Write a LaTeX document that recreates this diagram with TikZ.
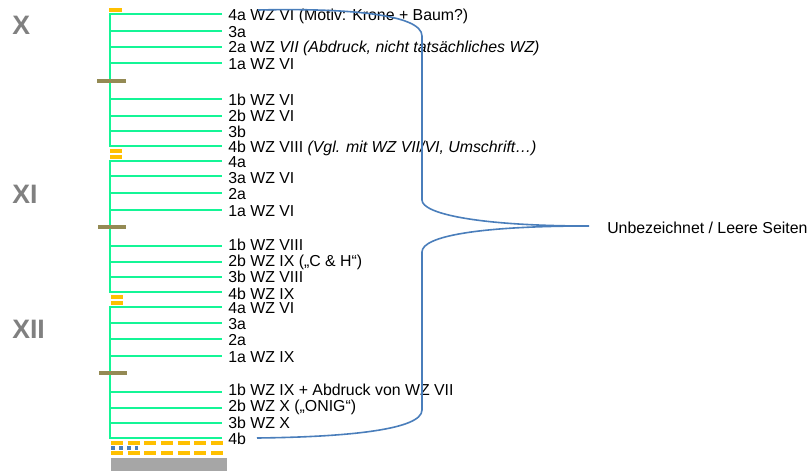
\documentclass[tikz,border=0pt]{standalone}
\usepackage{fontspec}
\setmainfont{Liberation Sans}
\definecolor{leafgreen}{RGB}{20,245,150}
\definecolor{markyellow}{RGB}{255,192,0}
\definecolor{olivebar}{RGB}{148,138,84}
\definecolor{bracketblue}{RGB}{74,126,187}
\definecolor{quiregray}{RGB}{128,128,128}
\definecolor{blockgray}{RGB}{166,166,166}
\tikzset{
  leaf/.style={draw=leafgreen, line width=1.6pt},
  ybar/.style={draw=markyellow, line width=3pt},
  obar/.style={draw=olivebar, line width=3pt},
  ydash/.style={draw=markyellow, line width=3pt, dash pattern=on 9pt off 3.5pt},
  lbl/.style={anchor=west, inner sep=0pt, font=\fontsize{11.9}{13}\selectfont},
  quire/.style={anchor=west, inner sep=0pt, text=quiregray, font=\fontsize{20}{22}\selectfont\bfseries},
  brace/.style={draw=bracketblue, line width=1.2pt}
}
\begin{document}
\begin{tikzpicture}[x=0.75pt,y=-0.75pt]
\useasboundingbox (0,0) rectangle (811,471);
% quire labels
\node[quire] (qX) at (12,25) {X};
\node[quire] (qXI) at (12,194) {XI};
\node[quire] (qXII) at (12,329) {XII};
% quire 1
\draw[leaf] (222,14) -- (110,14) -- (110,146) -- (222,146);
\foreach \y in {31,47,63,99,116,131} \draw[leaf] (110,\y) -- (222,\y);
\draw[ybar] (109,10) -- (122,10);
\draw[obar] (97,81) -- (126,81);
\draw[ybar] (110,150.5) -- (122,150.5);
\draw[ybar] (110,156.5) -- (122,156.5);
% quire 2
\draw[leaf] (222,161) -- (110,161) -- (110,292) -- (222,292);
\foreach \y in {176,193,210,246,262,277} \draw[leaf] (110,\y) -- (222,\y);
\draw[obar] (98,227) -- (126,227);
\draw[ybar] (111,296.5) -- (123,296.5);
\draw[ybar] (111,303) -- (123,303);
% quire 3
\draw[leaf] (222,307) -- (110,307) -- (110,438) -- (222,438);
\foreach \y in {323,339,356,392,408,423} \draw[leaf] (110,\y) -- (222,\y);
\draw[obar] (99,373) -- (127,373);
% bottom markers
\draw[ydash] (111,442.5) -- (227,442.5);
\draw[draw=bracketblue, line width=3pt, dash pattern=on 3pt off 3pt] (111,447.5) -- (138,447.5);
\draw[ydash] (111,453) -- (227,453);
\fill[blockgray] (111,458) rectangle (227,471);
% labels
\node[lbl] (a4a) at (228,16) {4a WZ VI (Motiv: Krone + Baum?)};
\node[lbl] (a3a) at (228,32) {3a};
\node[lbl] (a2a) at (228,48) {2a WZ \textit{VII (Abdruck, nicht tatsächliches WZ)}};
\node[lbl] (a1a) at (228,64) {1a WZ VI};
\node[lbl] (a1b) at (228,100) {1b WZ VI};
\node[lbl] (a2b) at (228,116) {2b WZ VI};
\node[lbl] (a3b) at (228,132) {3b};
\node[lbl] (a4b) at (228,148) {4b WZ VIII \textit{(Vgl. mit WZ VII/VI, Umschrift…)}};
\node[lbl] (b4a) at (228,162) {4a};
\node[lbl] (b3a) at (228,178) {3a WZ VI};
\node[lbl] (b2a) at (228,194) {2a};
\node[lbl] (b1a) at (228,211) {1a WZ VI};
\node[lbl] (b1b) at (228,245) {1b WZ VIII};
\node[lbl] (b2b) at (228,262) {2b WZ IX („C \& H“)};
\node[lbl] (b3b) at (228,277) {3b WZ VIII};
\node[lbl] (b4b) at (228,293.5) {4b WZ IX};
\node[lbl] (c4a) at (228,308) {4a WZ VI};
\node[lbl] (c3a) at (228,324) {3a};
\node[lbl] (c2a) at (228,340) {2a};
\node[lbl] (c1a) at (228,357) {1a WZ IX};
\node[lbl] (c1b) at (228,390) {1b WZ IX + Abdruck von WZ VII};
\node[lbl] (c2b) at (228,407) {2b WZ X („ONIG“)};
\node[lbl] (c3b) at (228,423) {3b WZ X};
\node[lbl] (c4b) at (228,439) {4b};
\node[lbl] (note) at (607,228) {Unbezeichnet / Leere Seiten};
% bracket
\coordinate (btop) at (258,10);
\coordinate (btip) at (589,226);
\coordinate (bbot) at (257,438);
\draw[brace] (btop) .. controls (345,8) and (422,14) .. (422,36)
  -- (422,200) .. controls (422,214) and (480,226) .. (btip)
  .. controls (480,226) and (422,236) .. (422,252)
  -- (422,410) .. controls (422,430) and (345,437) .. (bbot);
\end{tikzpicture}
\end{document}
